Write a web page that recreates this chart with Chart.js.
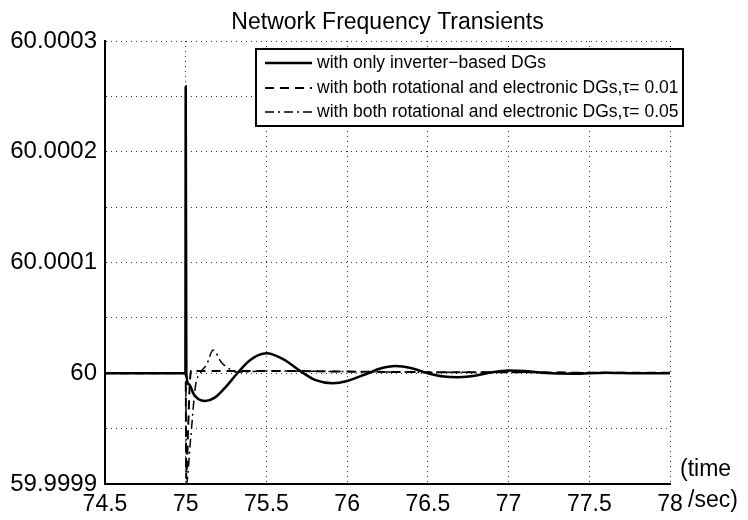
<!DOCTYPE html>
<html>
<head>
<meta charset="utf-8">
<script src="https://cdn.jsdelivr.net/npm/chart.js@4/dist/chart.umd.min.js"></script>
<style>
    html, body { margin: 0; padding: 0; background: #fff; }
    #wrap { width: 748px; height: 520px; }
</style>
</head>
<body>
<div id="wrap"><canvas id="freqChart" width="748" height="520"></canvas></div>
<script>
// frequency deviation from 60 Hz, in units of 0.0001 Hz
const tInverter = [74.5, 74.998, 75.0, 75.004, 75.02, 75.05, 75.08, 75.12, 75.18, 75.25, 75.32, 75.4, 75.5, 75.6, 75.73, 75.8, 75.91, 76.0, 76.13, 76.2, 76.3, 76.4, 76.5, 76.6, 76.69, 76.8, 76.9, 77.0, 77.1, 77.2, 77.4, 77.6, 77.8, 78.0];
const fInverter = [0, 0, 2.59, 0, -0.1, -0.19, -0.235, -0.25, -0.22, -0.12, 0, 0.12, 0.18, 0.13, 0, -0.06, -0.09, -0.07, 0, 0.04, 0.065, 0.045, 0, -0.03, -0.035, -0.02, 0.01, 0.025, 0.02, 0.005, -0.005, 0.005, 0, 0];

const tTau001 = [74.5, 74.999, 75.0, 75.003, 75.015, 75.025, 75.035, 75.06, 75.3, 75.6, 76.0, 76.5, 77.0, 77.5, 78.0];
const fTau001 = [0, 0, 0, -0.95, -0.5, -0.1, 0.03, 0.02, 0.02, 0.02, 0.015, 0.01, 0.01, 0.005, 0.005];

const tTau005 = [74.5, 74.999, 75.0, 75.004, 75.03, 75.06, 75.09, 75.13, 75.17, 75.22, 75.27, 75.32, 75.5, 76.0, 76.5, 77.0, 77.5, 78.0];
const fTau005 = [0, 0, 0, -1.0, -0.6, -0.12, 0, 0.08, 0.21, 0.1, 0.04, 0.01, 0.02, 0.015, 0.01, 0.01, 0.005, 0.005];

const legendLabels = [
    'with only inverter\u2212based DGs',
    'with both rotational and electronic DGs,\u03c4= 0.01',
    'with both rotational and electronic DGs,\u03c4= 0.05'
];
const lineDashes = [[], [9, 6], [9, 4, 2, 4]];
const lineWidths = [2.5, 2, 1.5];

const FONT = "'Liberation Sans', Arial, Helvetica, sans-serif";

function toPoints(ts, fs) {
    return ts.map((t, i) => ({ x: t, y: fs[i] }));
}

// 标题、图例、单位
const decorPlugin = {
    id: 'decor',
    afterDraw(chart) {
        const ctx = chart.ctx;
        const area = chart.chartArea;
        ctx.save();
        ctx.fillStyle = '#000';
        ctx.font = '23px ' + FONT;
        ctx.textAlign = 'center';
        ctx.textBaseline = 'alphabetic';
        ctx.fillText('Network Frequency Transients', (area.left + area.right) / 2, 29);

        // axis unit
        ctx.font = '23px ' + FONT;
        ctx.textAlign = 'left';
        ctx.textBaseline = 'middle';
        ctx.fillText('(time', 680, 470);
        ctx.fillText('/sec)', 688, 501);

        // legend box
        const bx = 256, by = 49, bw = 427, bh = 77;
        ctx.fillStyle = '#fff';
        ctx.fillRect(bx, by, bw, bh);
        ctx.strokeStyle = '#000';
        ctx.lineWidth = 2;
        ctx.strokeRect(bx, by, bw, bh);
        ctx.font = '17.5px ' + FONT;
        ctx.fillStyle = '#000';
        const rows = [63, 88, 112];
        legendLabels.forEach((label, i) => {
            ctx.save();
            ctx.setLineDash(lineDashes[i]);
            ctx.lineWidth = lineWidths[i];
            ctx.beginPath();
            ctx.moveTo(265, rows[i]);
            ctx.lineTo(312, rows[i]);
            ctx.stroke();
            ctx.restore();
            ctx.fillText(label, 317, rows[i]);
        });
        ctx.restore();
    }
};

const ctx = document.getElementById('freqChart').getContext('2d');
new Chart(ctx, {
    type: 'line',
    data: {
        datasets: [
            { label: legendLabels[0], data: toPoints(tInverter, fInverter) },
            { label: legendLabels[1], data: toPoints(tTau001, fTau001) },
            { label: legendLabels[2], data: toPoints(tTau005, fTau005) }
        ].map((ds, i) => Object.assign(ds, {
            borderColor: '#000',
            borderWidth: lineWidths[i],
            borderDash: lineDashes[i],
            pointRadius: 0,
            fill: false,
            cubicInterpolationMode: 'monotone'
        }))
    },
    options: {
        responsive: false,
        animation: false,
        layout: { padding: { top: 41, right: 78, left: 0, bottom: 0 } },
        plugins: {
            legend: { display: false },
            title: { display: false },
            tooltip: { enabled: false }
        },
        scales: {
            x: {
                type: 'linear',
                min: 74.5,
                max: 78,
                afterFit: scale => { scale.height = 36; },
                ticks: {
                    stepSize: 0.5,
                    color: '#000',
                    padding: 7,
                    font: { family: FONT, size: 23 },
                    maxRotation: 0,
                    callback: v => String(v)
                },
                grid: { color: '#333', lineWidth: 1, drawTicks: false },
                border: { display: true, color: '#000', width: 2, dash: [1, 4] }
            },
            y: {
                min: -1,
                max: 3,
                afterFit: scale => { scale.width = 105; },
                ticks: {
                    stepSize: 0.5,
                    color: '#000',
                    padding: 8,
                    font: { family: FONT, size: 24 },
                    callback: v => Number.isInteger(v) ? (v === 0 ? '60' : (60 + v * 1e-4).toFixed(4)) : ''
                },
                grid: { color: '#333', lineWidth: 1, drawTicks: false },
                border: { display: true, color: '#000', width: 2, dash: [1, 4] }
            }
        }
    },
    plugins: [decorPlugin]
});
</script>
</body>
</html>
